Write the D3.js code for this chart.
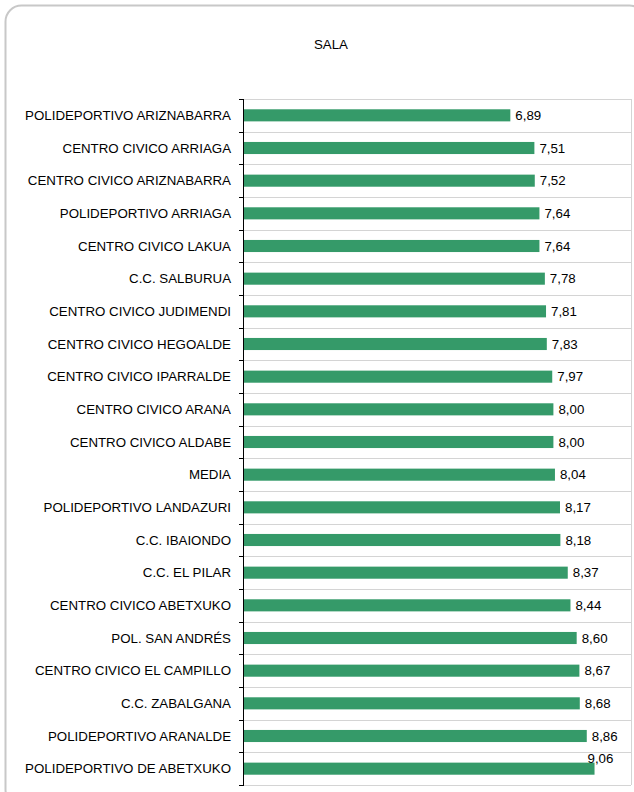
<!doctype html>
<html lang="es">
<head>
    <meta charset="utf-8">
    <title>SALA</title>
    <script src="https://d3js.org/d3.v7.min.js"></script>
    <style type="text/css">
        body { margin: 0; background: #fff; }
        text { font-family: "Liberation Sans", Arial, sans-serif; fill: #000; }
    </style>
</head>

<body>
</body>

<script type="text/javascript">

    var width  = 634;
    var height = 792;

    var categories = [
        "POLIDEPORTIVO ARIZNABARRA",
        "CENTRO CIVICO ARRIAGA",
        "CENTRO CIVICO ARIZNABARRA",
        "POLIDEPORTIVO ARRIAGA",
        "CENTRO CIVICO LAKUA",
        "C.C. SALBURUA",
        "CENTRO CIVICO JUDIMENDI",
        "CENTRO CIVICO HEGOALDE",
        "CENTRO CIVICO IPARRALDE",
        "CENTRO CIVICO ARANA",
        "CENTRO CIVICO ALDABE",
        "MEDIA",
        "POLIDEPORTIVO LANDAZURI",
        "C.C. IBAIONDO",
        "C.C. EL PILAR",
        "CENTRO CIVICO ABETXUKO",
        "POL. SAN ANDRÉS",
        "CENTRO CIVICO EL CAMPILLO",
        "C.C. ZABALGANA",
        "POLIDEPORTIVO ARANALDE",
        "POLIDEPORTIVO DE ABETXUKO"
    ];
    var values = [6.89, 7.51, 7.52, 7.64, 7.64, 7.78, 7.81, 7.83, 7.97, 8.00, 8.00,
                  8.04, 8.17, 8.18, 8.37, 8.44, 8.60, 8.67, 8.68, 8.86, 9.06];
    var xDomain = [0, 10];
    var title = "SALA";

    var plot = {left: 243, top: 99, right: 631, bottom: 785};
    var fontSize = "13.3px";

    var svg = d3.select("body")
        .append("svg")
        .attr("width", width)
        .attr("height", height);

    // outer frame, runs off the right and bottom edge
    svg.append("rect")
        .attr("x", 5.5).attr("y", 5.5)
        .attr("width", 640).attr("height", 800)
        .attr("rx", 16).attr("ry", 16)
        .attr("fill", "#fff")
        .attr("stroke", "#c8c8c8")
        .attr("stroke-width", 2);

    svg.append("text")
        .attr("x", 331).attr("y", 49)
        .attr("text-anchor", "middle")
        .style("font-size", fontSize)
        .text(title);

    var x = d3.scaleLinear().domain(xDomain).range([plot.left, plot.right]);
    var y = d3.scaleBand().domain(categories).range([plot.top, plot.bottom]).paddingInner(0.63).paddingOuter(0.315);
    var band = d3.scaleBand().domain(categories).range([plot.top, plot.bottom]);

    // horizontal grid lines at the category boundaries
    var bounds = categories.map(d => band(d)).concat([plot.bottom]);
    svg.selectAll(".grid")
        .data(bounds)
        .enter()
        .append("line")
        .attr("x1", plot.left).attr("x2", plot.right)
        .attr("y1", d => Math.round(d) + 0.5).attr("y2", d => Math.round(d) + 0.5)
        .attr("stroke", "#d4d4d4");

    svg.append("line")
        .attr("x1", plot.right + 0.5).attr("x2", plot.right + 0.5)
        .attr("y1", plot.top).attr("y2", plot.bottom)
        .attr("stroke", "#d4d4d4");

    svg.selectAll(".bar")
        .data(values)
        .enter()
        .append("rect")
        .attr("x", x(0) + 1)
        .attr("y", (d, i) => y(categories[i]))
        .attr("width", d => x(d) - x(0) - 1)
        .attr("height", y.bandwidth())
        .attr("fill", "#359a69");

    // left axis with ticks between categories
    svg.append("line")
        .attr("x1", plot.left + 0.5).attr("x2", plot.left + 0.5)
        .attr("y1", plot.top).attr("y2", plot.bottom + 1)
        .attr("stroke", "#000");
    svg.selectAll(".tick")
        .data(bounds)
        .enter()
        .append("line")
        .attr("x1", plot.left - 4).attr("x2", plot.left)
        .attr("y1", d => Math.round(d) + 0.5).attr("y2", d => Math.round(d) + 0.5)
        .attr("stroke", "#000");

    svg.selectAll(".cat")
        .data(categories)
        .enter()
        .append("text")
        .attr("x", 231)
        .attr("y", d => band(d) + band.bandwidth() / 2)
        .attr("dy", "0.35em")
        .attr("text-anchor", "end")
        .style("font-size", fontSize)
        .text(d => d);

    var fmt = d => d.toFixed(2).replace(".", ",");
    svg.selectAll(".val")
        .data(values)
        .enter()
        .append("text")
        .attr("x", d => x(d) + 5)
        .attr("y", (d, i) => band(categories[i]) + band.bandwidth() / 2)
        .attr("dy", "0.35em")
        .style("font-size", fontSize)
        .text(fmt)
        .each(function(d) {
            // label that would not fit beside the bar sits above its end
            var w = this.getComputedTextLength();
            if (x(d) + 5 + w > plot.right - 10) {
                d3.select(this)
                    .attr("x", x(d) - 7)
                    .attr("y", +d3.select(this).attr("y") - 10);
            }
        });

</script>

</html>
